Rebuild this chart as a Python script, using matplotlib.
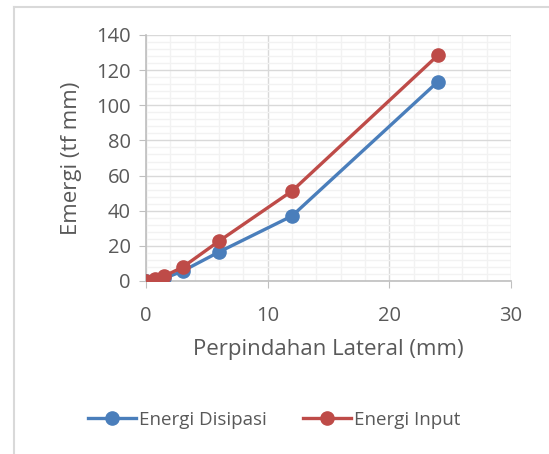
import matplotlib
matplotlib.use('Agg')
import matplotlib.pyplot as plt
from matplotlib.lines import Line2D
from matplotlib.ticker import MultipleLocator

# data
disp = [0, 0.75, 1.5, 3, 6, 12, 24]
e_disipasi = [0, 0.5, 1.5, 5.6, 16.5, 37, 113.5]
e_input = [0, 1.0, 2.8, 7.8, 22.7, 51.2, 128.5]

plt.rcParams['font.family'] = ['Open Sans', 'DejaVu Sans']
txt = '#595959'

fig = plt.figure(figsize=(5.49, 4.54), dpi=100)
ax = fig.add_axes([146/549, 1-281/454, (511-146)/549, (281-35)/454])

ax.plot(disp, e_disipasi, color='#4A7EBB', lw=2.4, marker='o', ms=9.5, label='Energi Disipasi', zorder=3)
ax.plot(disp, e_input, color='#BE4B48', lw=2.4, marker='o', ms=9.5, label='Energi Input', zorder=4)

ax.set_xlim(0, 30)
ax.set_ylim(0, 140)
ax.xaxis.set_major_locator(MultipleLocator(10))
ax.xaxis.set_minor_locator(MultipleLocator(2))
ax.yaxis.set_major_locator(MultipleLocator(20))
ax.yaxis.set_minor_locator(MultipleLocator(4))
ax.grid(which='major', color='#D9D9D9', lw=1.0, zorder=0)
ax.grid(which='minor', color='#F2F2F2', lw=1.0, zorder=0)
ax.set_axisbelow(True)

for s in ['top', 'right']:
    ax.spines[s].set_visible(False)
for s in ['left', 'bottom']:
    ax.spines[s].set_color('#BFBFBF')
    ax.spines[s].set_linewidth(1.2)
ax.tick_params(which='major', direction='out', length=5, color='#BFBFBF',
               labelsize=14.5, labelcolor=txt, pad=6)
ax.tick_params(which='minor', length=0)
ax.tick_params(axis='x', pad=13)

ax.set_xlabel('Perpindahan Lateral (mm)', fontsize=16, color=txt, labelpad=9)
ax.set_ylabel('Emergi (tf mm)', fontsize=16, color=txt, labelpad=10)

fig.legend(loc='center', bbox_to_anchor=(274/549, 1-420/454), ncol=2, frameon=False,
           fontsize=13.5, labelcolor=txt, handlelength=2.6, handletextpad=0.15, columnspacing=1.9)

# chart area border (cropped Excel frame)
fig.add_artist(Line2D([13.5/549, 1], [1-6.5/454, 1-6.5/454], transform=fig.transFigure, color='#D9D9D9', lw=1.5))
fig.add_artist(Line2D([13.5/549, 13.5/549], [0, 1-6.5/454], transform=fig.transFigure, color='#D9D9D9', lw=1.5))

fig.savefig('out.png', dpi=100)
